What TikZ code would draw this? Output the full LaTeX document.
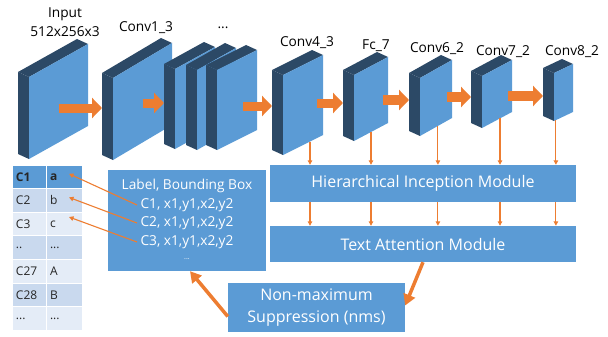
\documentclass[tikz,border=0pt]{standalone}
\usepackage{fontspec}
\setmainfont{Open Sans}
\usetikzlibrary{positioning, calc, arrows.meta}

\definecolor{blk}{HTML}{5B9BD5}
\definecolor{blkdark}{HTML}{2C4966}
\definecolor{arrorange}{HTML}{ED7D31}
\definecolor{rowmid}{HTML}{C9D9EE}
\definecolor{rowlight}{HTML}{E4ECF7}

% one feature map slab: name, left, right, top (right edge), drop, height
\newcommand{\slab}[6]{%
  \coordinate (#1-nw) at (#2,#4+#5);
  \coordinate (#1-ne) at (#3,#4);
  \coordinate (#1-se) at (#3,#4+#6);
  \coordinate (#1-sw) at (#2,#4+#5+#6);
  \coordinate (#1-c) at ($(#1-nw)!0.5!(#1-se)$);
  \coordinate (#1-back) at (#2-11,#4);
  \fill[blkdark] (#1-nw) -- (#1-sw) -- ++(-11,-5) -- ++(0,-#6) -- cycle;
  \fill[blkdark] (#1-nw) -- (#1-ne) -- ++(-11,-5) -- ($(#1-nw)+(-11,-5)$) -- cycle;
  \fill[blk] (#1-nw) -- (#1-ne) -- (#1-se) -- (#1-sw) -- cycle;
}
\newcommand{\tdots}{...}
\newcommand{\tdd}{..}

\begin{document}
\begin{tikzpicture}[
        x=1pt, y=-1pt,
        font=\fontsize{13.7}{19}\selectfont,
        fatarrow/.style={line width=9pt, draw=arrorange, -{Triangle[length=10pt,width=20pt]}},
        thinarrow/.style={line width=1.1pt, draw=arrorange, -{Triangle[length=4.5pt,width=4.5pt]}},
        bigarrow/.style={line width=3.5pt, draw=arrorange, -{Triangle[length=11pt,width=12pt]}},
        module/.style={rectangle, fill=blk, text=white, inner sep=0pt, align=center, font=\fontsize{16}{22}\selectfont},
        cell/.style={rectangle, draw=white, line width=1pt, minimum height=23.6pt, inner xsep=4pt, inner ysep=0pt, align=left, text=black!85, font=\fontsize{12}{14}\selectfont},
        lbl/.style={align=center},
      ]
        \useasboundingbox (0,0) rectangle (608,337);

        \slab{input}{29}{88}{44}{33}{82}
        \slab{conv13}{113}{172}{43}{35}{82}
        \slab{stackA}{175}{215}{47}{22}{80}
        \slab{stackB}{197}{236}{48}{22}{80}
        \slab{stackC}{217}{257}{50}{20}{80}
        \slab{conv43}{283}{323}{55}{20}{80}
        \slab{fc7}{354}{388}{57}{18}{66}
        \slab{conv62}{420}{452}{60}{18}{58}
        \slab{conv72}{482}{512}{60}{16}{52}
        \slab{conv82}{554}{573}{64}{9}{48}

        \node[lbl] (input-lbl) at (65,22.5) {Input\\512x256x3};
        \node[lbl] (conv13-lbl) at (146,28) {Conv1\_3};
        \node[lbl] (stack-lbl) at (223,28) {...};
        \node[lbl] (conv43-lbl) at (307,43) {Conv4\_3};
        \node[lbl] (fc7-lbl) at (376,46) {Fc\_7};
        \node[lbl] (conv62-lbl) at (437,49) {Conv6\_2};
        \node[lbl] (conv72-lbl) at (503,52) {Conv7\_2};
        \node[lbl] (conv82-lbl) at (572,52) {Conv8\_2};

        \foreach \a/\b/\dx/\dy in {input/conv13/0/6.5, conv13/stackA/0/1.5, stackC/conv43/6/6,
                                   conv43/fc7/14/-2, fc7/conv62/12/1, conv62/conv72/11/-1, conv72/conv82/11/2} {
          \coordinate (\a-out) at ($(\a-c)+(\dx,\dy)$);
          \draw[fatarrow] (\a-out) -- (\a-out -| \b-back);
        }

        \node[module, minimum width=306pt, minimum height=37pt] (him) at (423,183.5) {Hierarchical Inception Module};
        \node[module, minimum width=306pt, minimum height=36pt] (tam) at (423,244) {Text Attention Module};
        \node[module, minimum width=177pt, minimum height=49pt] (nms) at (316.5,307.5) {Non-maximum\\Suppression (nms)};

        \foreach \b/\f in {conv43/0.675, fc7/0.5, conv62/0.56, conv72/0.6, conv82/0.1} {
          \coordinate (\b-tap) at ($(\b-sw)!\f!(\b-se)$);
          \draw[thinarrow] (\b-tap) -- (\b-tap |- him.north);
          \draw[thinarrow] (\b-tap |- him.south) -- (\b-tap |- tam.north);
        }

        \node[module, minimum width=158pt, minimum height=101pt] (lblbox) at (187,220.5) {};
        \node[text=white] (lbltitle) at (187,186) {Label, Bounding Box};
        \node[text=white] (l1) at (187,205) {C1, x1,y1,x2,y2};
        \node[text=white] (l2) at (187,223) {C2, x1,y1,x2,y2};
        \node[text=white] (l3) at (187,242) {C3, x1,y1,x2,y2};
        \node[text=white, font=\scriptsize] (l4) at (187,259) {\tdots};

        \foreach \k/\v/\c [count=\i] in {\textbf{C1}/\textbf{a}/blk, C2/b/rowmid, C3/c/rowlight,
                                         \tdd/\tdots/rowmid, C27/A/rowlight, C28/B/rowmid, \tdots/\tdots/rowlight} {
          \node[cell, fill=\c, text width=26pt] (k\i) at (29,165+23.6*\i-11.8) {\k};
          \node[cell, fill=\c, text width=28pt] (v\i) at (64,165+23.6*\i-11.8) {\v};
        }

        \draw[thinarrow] (l1.west) -- ([xshift=5pt,yshift=3pt]v1.center);
        \draw[thinarrow] (l2.west) -- ([xshift=5pt,yshift=3pt]v2.center);
        \draw[thinarrow] (l3.west) -- ([xshift=5pt,yshift=7pt]v3.center);

        \draw[bigarrow] (tam.south) -- ([yshift=2pt]nms.east);
        \draw[bigarrow] ([yshift=-9pt]nms.west) -- ([xshift=3pt]lblbox.south);
      \end{tikzpicture}
\end{document}
